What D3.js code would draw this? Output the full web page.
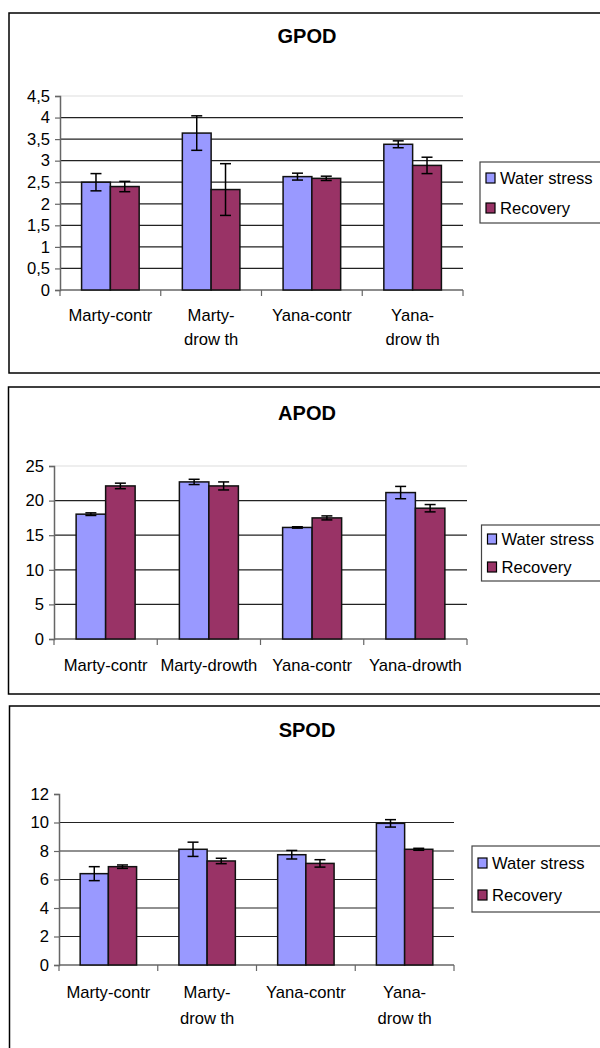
<!DOCTYPE html>
<html><head><meta charset="utf-8">
<script src="https://cdn.jsdelivr.net/npm/d3@7"></script>
<style>body{margin:0;background:#fff}svg{display:block}text{font-family:"Liberation Sans",Arial,sans-serif}</style>
</head><body>
<svg id="c" width="600" height="1048"></svg>
<script>
const categories = ["Marty-contr","Marty-drowth","Yana-contr","Yana-drowth"];
const wrappedLabels = [["Marty-contr"],["Marty-","drow th"],["Yana-contr"],["Yana-","drow th"]];
const seriesNames = ["Water stress","Recovery"];
const seriesColors = ["#9999FF","#993366"];

const gpodWater = [2.50, 3.64, 2.63, 3.38];
const gpodWaterErr = [0.20, 0.40, 0.08, 0.08];
const gpodRecovery = [2.40, 2.33, 2.59, 2.89];
const gpodRecoveryErr = [0.12, 0.60, 0.05, 0.19];
const gpodTicks = [0,0.5,1,1.5,2,2.5,3,3.5,4,4.5];

const apodWater = [18.04, 22.70, 16.12, 21.16];
const apodWaterErr = [0.19, 0.38, 0.10, 0.89];
const apodRecovery = [22.12, 22.12, 17.50, 18.90];
const apodRecoveryErr = [0.40, 0.58, 0.29, 0.53];
const apodTicks = [0,5,10,15,20,25];

const spodWater = [6.41, 8.12, 7.74, 9.94];
const spodWaterErr = [0.49, 0.50, 0.30, 0.26];
const spodRecovery = [6.90, 7.30, 7.13, 8.12];
const spodRecoveryErr = [0.12, 0.19, 0.26, 0.07];
const spodTicks = [0,2,4,6,8,10,12];

const svg = d3.select("#c");
const fmt = v => String(v).replace(".", ",");
const FS = 16.6;

function panel(o){
  const g = svg.append("g");
  g.append("rect").attr("x",o.bx).attr("y",o.by).attr("width",o.bw).attr("height",o.bh)
    .attr("fill","none").attr("stroke","#000").attr("stroke-width",1.5);
  g.append("text").attr("x",307).attr("y",o.titleY).attr("text-anchor","middle")
    .attr("font-size",20).attr("font-weight","bold").text(o.title);
  const y = d3.scaleLinear().domain([0,o.ticks[o.ticks.length-1]]).range([o.y0,o.yTop]);
  const x = d3.scaleBand().domain(categories).range([o.x0,o.x1]).paddingInner(0).paddingOuter(0);
  const bw = x.bandwidth()/3.5;
  o.ticks.forEach((t,i)=>{
    if(t===0) return;
    const last = i===o.ticks.length-1;
    if(last && !o.topGrid) return;
    g.append("line").attr("x1",o.x0).attr("x2",o.x1).attr("y1",y(t)).attr("y2",y(t))
      .attr("stroke", last ? "#dddddd" : "#222").attr("stroke-width",1.2);
  });
  const ya = d3.axisLeft(y).tickValues(o.ticks).tickFormat(fmt).tickSize(5).tickPadding(5);
  const yg = g.append("g").attr("transform",`translate(${o.x0},0)`).call(ya);
  yg.select(".domain").attr("stroke","#666").attr("stroke-width",1.5);
  yg.selectAll(".tick line").attr("stroke","#666").attr("stroke-width",1.2);
  yg.selectAll(".tick text").attr("font-size",FS).attr("fill","#000").attr("font-family",'"Liberation Sans",Arial,sans-serif');
  g.append("line").attr("x1",o.x0).attr("x2",o.x1).attr("y1",o.y0).attr("y2",o.y0).attr("stroke","#666").attr("stroke-width",1.5);
  const bounds = categories.map(c=>x(c)).concat([o.x1]);
  bounds.forEach(b=>g.append("line").attr("x1",b).attr("x2",b).attr("y1",o.y0).attr("y2",o.y0+6).attr("stroke","#666").attr("stroke-width",1.2));
  o.series.forEach((s,si)=>{
    categories.forEach((c,ci)=>{
      const bx = x(c) + x.bandwidth()/2 - bw + si*bw;
      g.append("rect").attr("x",bx).attr("y",y(s.values[ci])).attr("width",bw)
        .attr("height",o.y0 - y(s.values[ci])).attr("fill",seriesColors[si])
        .attr("stroke","#111").attr("stroke-width",1.5);
    });
  });
  o.series.forEach((s,si)=>{
    categories.forEach((c,ci)=>{
      const cx = x(c) + x.bandwidth()/2 - bw + si*bw + bw/2;
      const v=s.values[ci], e=s.err[ci];
      const yt=y(v+e), yb=y(v-e);
      g.append("line").attr("x1",cx).attr("x2",cx).attr("y1",yt).attr("y2",yb).attr("stroke","#000").attr("stroke-width",1.5);
      [yt,yb].forEach(yy=>g.append("line").attr("x1",cx-5.5).attr("x2",cx+5.5).attr("y1",yy).attr("y2",yy).attr("stroke","#000").attr("stroke-width",1.5));
    });
  });
  categories.forEach((c,ci)=>{
    const lines = o.wrap ? wrappedLabels[ci] : [c];
    lines.forEach((ln,li)=>{
      g.append("text").attr("x",x(c)+x.bandwidth()/2).attr("y",o.labY + li*o.labStep)
        .attr("text-anchor","middle").attr("font-size",FS).text(ln);
    });
  });
  g.append("rect").attr("x",o.lx).attr("y",o.ly).attr("width",o.lw).attr("height",o.lh)
    .attr("fill","#fff").attr("stroke","#444").attr("stroke-width",1.2);
  seriesNames.forEach((n,i)=>{
    const base = o.ly + o.lFirst + i*o.lStep;
    g.append("rect").attr("x",o.lx+6).attr("y",base-11).attr("width",9).attr("height",10)
      .attr("fill",seriesColors[i]).attr("stroke","#000").attr("stroke-width",1.2);
    g.append("text").attr("x",o.lx+20).attr("y",base).attr("font-size",FS).text(n);
  });
}

panel({title:"GPOD", bx:9, by:13, bw:620, bh:360, titleY:43,
  ticks:gpodTicks, y0:290, yTop:96, x0:60, x1:463, topGrid:true,
  series:[{values:gpodWater,err:gpodWaterErr},{values:gpodRecovery,err:gpodRecoveryErr}],
  wrap:true, labY:321, labStep:24,
  lx:480, ly:162, lw:130, lh:61, lFirst:22, lStep:30});

panel({title:"APOD", bx:8.5, by:387, bw:620, bh:307, titleY:420,
  ticks:apodTicks, y0:639, yTop:466, x0:54, x1:467, topGrid:true,
  series:[{values:apodWater,err:apodWaterErr},{values:apodRecovery,err:apodRecoveryErr}],
  wrap:false, labY:671, labStep:24,
  lx:481.5, ly:525, lw:130, lh:56, lFirst:20, lStep:28});

panel({title:"SPOD", bx:9.5, by:706, bw:620, bh:400, titleY:737,
  ticks:spodTicks, y0:965, yTop:794, x0:59, x1:454, topGrid:false,
  series:[{values:spodWater,err:spodWaterErr},{values:spodRecovery,err:spodRecoveryErr}],
  wrap:true, labY:998, labStep:26,
  lx:472, ly:846, lw:130, lh:66, lFirst:23, lStep:32});
</script>
</body></html>
